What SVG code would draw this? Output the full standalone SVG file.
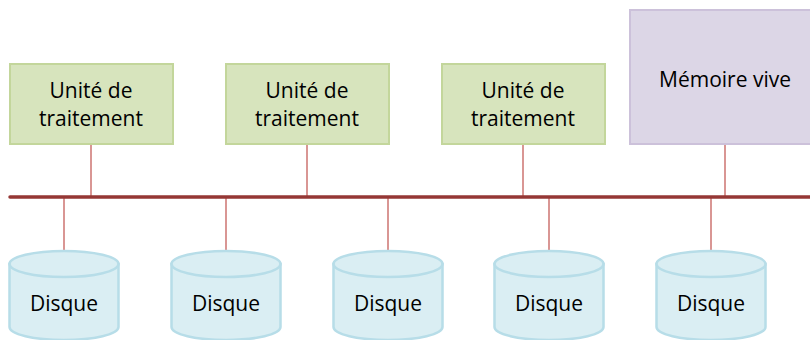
<svg xmlns="http://www.w3.org/2000/svg" width="810" height="340" viewBox="0 0 810 340">
<style>
.cpu{fill:#d7e4bd;stroke:#c3d69b;stroke-width:2}
.ram{fill:#dcd6e6;stroke:#ccc1da;stroke-width:2}
.disk{fill:#daeef3;stroke:#b7dde8;stroke-width:2.5}
.lnk{stroke:#d99694;stroke-width:2;fill:none}
.bus{stroke:#953735;stroke-width:3.5;fill:none;stroke-linecap:round}
text{font-family:"Open Sans","Noto Sans","Liberation Sans",sans-serif;font-size:21px;fill:#000;text-anchor:middle}
</style>
<defs>
<g id="cyl">
<path class="disk" d="M-54.5,14 L-54.5,77 A54.5,13 0 0 0 54.5,77 L54.5,14 Z"/>
<ellipse class="disk" cx="0" cy="14" rx="54.5" ry="13"/>
</g>
</defs>
<g id="connectors">
<line class="lnk" x1="91" y1="144" x2="91" y2="197"/>
<line class="lnk" x1="307" y1="144" x2="307" y2="197"/>
<line class="lnk" x1="523" y1="144" x2="523" y2="197"/>
<line class="lnk" x1="725" y1="144" x2="725" y2="197"/>
<line class="lnk" x1="64" y1="197" x2="64" y2="251"/>
<line class="lnk" x1="226" y1="197" x2="226" y2="251"/>
<line class="lnk" x1="388" y1="197" x2="388" y2="251"/>
<line class="lnk" x1="549" y1="197" x2="549" y2="251"/>
<line class="lnk" x1="711" y1="197" x2="711" y2="251"/>
<line class="bus" x1="10" y1="197" x2="812" y2="197"/>
</g>
<g id="cpu1"><rect class="cpu" x="10" y="64" width="163" height="80"/><text x="91" y="98">Unité de</text><text x="91" y="126">traitement</text></g>
<g id="cpu2"><rect class="cpu" x="226" y="64" width="163" height="80"/><text x="307" y="98">Unité de</text><text x="307" y="126">traitement</text></g>
<g id="cpu3"><rect class="cpu" x="442" y="64" width="163" height="80"/><text x="523" y="98">Unité de</text><text x="523" y="126">traitement</text></g>
<g id="ram"><rect class="ram" x="630" y="10" width="190" height="134"/><text x="725" y="87">Mémoire vive</text></g>
<g id="disk1"><use href="#cyl" x="64" y="250"/><text x="64" y="311">Disque</text></g>
<g id="disk2"><use href="#cyl" x="226" y="250"/><text x="226" y="311">Disque</text></g>
<g id="disk3"><use href="#cyl" x="388" y="250"/><text x="388" y="311">Disque</text></g>
<g id="disk4"><use href="#cyl" x="549" y="250"/><text x="549" y="311">Disque</text></g>
<g id="disk5"><use href="#cyl" x="711" y="250"/><text x="711" y="311">Disque</text></g>
</svg>
